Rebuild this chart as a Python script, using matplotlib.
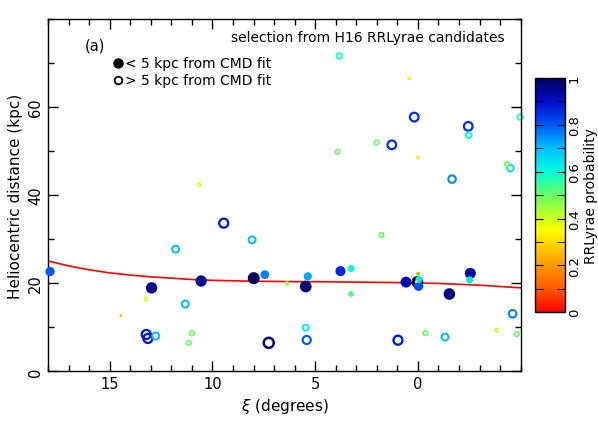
import numpy as np
import matplotlib
matplotlib.use('Agg')
import matplotlib.pyplot as plt
from matplotlib.colors import LinearSegmentedColormap
from matplotlib.ticker import MultipleLocator, FixedLocator

# filled: < 5 kpc from CMD fit
xi_fill = [17.9, 12.96, 10.55, 7.99, 7.45, 6.37, 5.46, 5.36, 3.77, 3.25, 3.26,
           0.58, -0.03, -0.05, 0.03, 0.08, -0.02, -0.02, -1.53, -2.55, -2.52]
d_fill = [22.6, 18.9, 20.45, 21.1, 21.9, 19.9, 19.2, 21.5, 22.7, 23.3, 17.5,
          20.2, 19.3, 20.8, 20.2, 20.3, 22.1, 22.1, 17.5, 22.2, 20.7]
p_fill = [0.80, 0.95, 0.95, 1.0, 0.76, 0.45, 0.98, 0.72, 0.86, 0.62, 0.53,
          0.92, 0.82, 0.62, 1.0, 0.32, 0.45, 0.08, 0.97, 0.93, 0.63]

# open: > 5 kpc from CMD fit
xi_open = [11.79, 9.45, 8.07, 13.23, 14.45, 11.32, 13.22, 13.14, 12.76, 11.0,
           11.15, 7.26, 5.46, 5.41, 0.97, -0.36, -1.32, -3.83, -4.81, -4.61,
           10.64, 3.83, 0.42, 0.18, -2.45, -2.47, -4.97, 2.01, 1.27, 3.91,
           -0.01, -1.66, -4.34, -4.5, 1.77]
d_open = [27.7, 33.6, 29.8, 16.4, 12.6, 15.2, 8.3, 7.4, 7.95, 8.6,
          6.4, 6.4, 9.85, 7.05, 7.0, 8.6, 7.7, 9.3, 8.4, 13.0,
          42.3, 71.6, 66.5, 57.7, 55.6, 53.6, 57.7, 51.9, 51.4, 49.8,
          48.5, 43.6, 47.0, 46.1, 30.9]
p_open = [0.70, 0.88, 0.70, 0.40, 0.25, 0.70, 0.88, 0.88, 0.70, 0.50,
          0.50, 0.97, 0.63, 0.80, 0.88, 0.50, 0.70, 0.40, 0.50, 0.76,
          0.38, 0.58, 0.32, 0.85, 0.85, 0.60, 0.58, 0.50, 0.85, 0.50,
          0.32, 0.75, 0.50, 0.66, 0.50]

# red fit curve
xi_fit = [18, 17, 16, 15, 14, 13, 12, 11, 10, 9, 8, 7, 6, 5, 4, 3, 2, 1, 0,
          -1, -2, -3, -4, -5]
d_fit = [25.0, 23.9, 23.0, 22.3, 21.8, 21.4, 21.1, 20.8, 20.6, 20.5, 20.4,
         20.35, 20.3, 20.3, 20.25, 20.2, 20.15, 20.1, 20.0, 19.9, 19.7, 19.5,
         19.2, 18.9]

x_ticks = [15, 10, 5, 0]
y_ticks = [0, 20, 40, 60]
cb_ticks = [0, 0.2, 0.4, 0.6, 0.8, 1.0]
cb_labels = ['0', '0.2', '0.4', '0.6', '0.8', '1']

nodes = [(0.0, (1, 0, 0)), (0.1, (1, 0.35, 0)), (0.2, (1, 0.6, 0)),
         (0.3, (1, 0.85, 0)), (0.35, (1, 1, 0)), (0.4, (0.8, 1, 0.1)),
         (0.5, (0.4, 1, 0.4)), (0.6, (0, 1, 0.85)), (0.7, (0, 0.75, 1)),
         (0.8, (0, 0.35, 0.95)), (0.9, (0, 0.05, 0.8)), (1.0, (0, 0, 0.35))]
cmap = LinearSegmentedColormap.from_list('rrl', nodes)


def msize(p):
    d = 2 + 10 * (np.asarray(p) - 0.25) / 0.75
    d = np.clip(d, 2, None) * 0.72
    return d ** 2


fig = plt.figure(figsize=(5.98, 4.27), dpi=100)
ax = fig.add_axes([0.0803, 0.1288, 0.7904, 0.8244])

ax.plot(xi_fit, d_fit, color='red', lw=1.2, zorder=1)

# open circles
po = np.array(p_open)
order = np.argsort(-po)
ax.scatter(np.array(xi_open)[order], np.array(d_open)[order], s=msize(po[order]) * 0.75,
           facecolors='none', edgecolors=cmap(po[order]),
           linewidths=0.6 + 1.2 * po[order], zorder=2, clip_on=False)

# filled circles
pf = np.array(p_fill)
order = np.argsort(-pf)
sc = ax.scatter(np.array(xi_fill)[order], np.array(d_fill)[order], s=msize(pf[order]),
                c=pf[order], cmap=cmap, vmin=0, vmax=1, edgecolors='none',
                zorder=3, clip_on=False)

ax.set_xlim(18, -5)
ax.set_ylim(0, 80)
ax.xaxis.set_major_locator(FixedLocator(x_ticks))
ax.xaxis.set_minor_locator(MultipleLocator(1))
ax.yaxis.set_major_locator(FixedLocator(y_ticks))
ax.yaxis.set_minor_locator(MultipleLocator(10))
ax.tick_params(which='both', direction='in', top=True, right=True, labelsize=10.5, width=1.0)
ax.tick_params(which='major', length=7)
ax.tick_params(which='minor', length=4)
for lab in ax.get_yticklabels():
    lab.set_rotation(90)
    lab.set_va('center')
for s in ax.spines.values():
    s.set_linewidth(1.0)

ax.set_xlabel(r'$\xi$ (degrees)', fontsize=11)
ax.set_ylabel('Heliocentric distance (kpc)', fontsize=11)

ax.text(0.078, 0.925, '(a)', transform=ax.transAxes, fontsize=10.5, va='center')
ax.text(0.965, 0.95, 'selection from H16 RRLyrae candidates', transform=ax.transAxes,
        fontsize=10, ha='right', va='center')
ax.plot([0.149], [0.875], 'o', color='black', ms=6.5, transform=ax.transAxes)
ax.plot([0.149], [0.827], 'o', mfc='none', mec='black', ms=5.5, mew=1.3,
        transform=ax.transAxes)
ax.text(0.163, 0.875, '< 5 kpc from CMD fit', transform=ax.transAxes,
        fontsize=10, va='center')
ax.text(0.163, 0.827, '> 5 kpc from CMD fit', transform=ax.transAxes,
        fontsize=10, va='center')

cax = fig.add_axes([0.8946, 0.2663, 0.0502, 0.5487])
cb = fig.colorbar(sc, cax=cax)
cb.set_ticks(cb_ticks)
cb.set_ticklabels(cb_labels)
cb.ax.yaxis.set_minor_locator(MultipleLocator(0.1))
cax.tick_params(which='both', direction='in', left=True, right=True, labelsize=9.5, pad=2)
cax.tick_params(which='major', length=6)
cax.tick_params(which='minor', length=6)
for lab in cax.get_yticklabels():
    lab.set_rotation(90)
    lab.set_va('center')
cb.set_label('RRLyrae probability', fontsize=10, rotation=90, va='center')
cax.yaxis.set_label_coords(1.85, 0.5)
cb.outline.set_linewidth(1.0)

fig.savefig('out.png', dpi=100)
